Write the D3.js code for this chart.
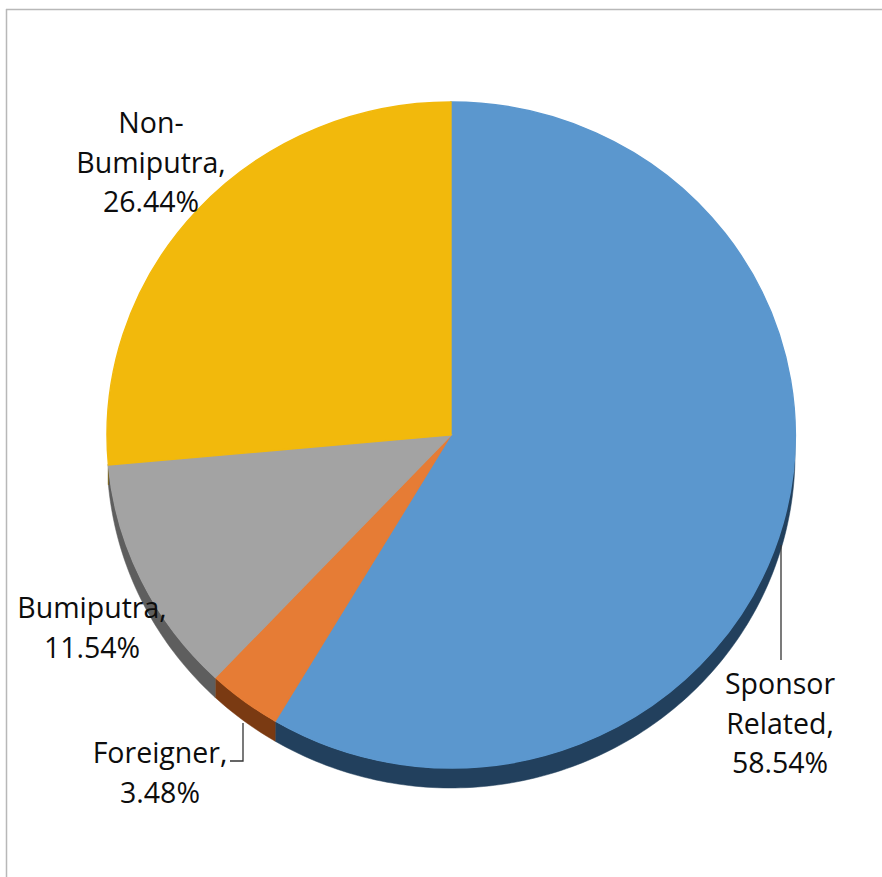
<!DOCTYPE html>
<html>
<head>
<meta charset="utf-8">
<script src="https://cdn.jsdelivr.net/npm/d3@7"></script>
<style>
  html, body { margin: 0; padding: 0; background: #fff; }
  svg { display: block; }
  .lbl { font-family: "Open Sans", sans-serif; font-size: 28.5px; fill: #0d0d0d; }
</style>
</head>
<body>
<svg id="chart" width="882" height="877"></svg>
<script>
// Shareholding breakdown
const categories = ["Sponsor Related", "Foreigner", "Bumiputra", "Non-Bumiputra"];
const shares = [58.54, 3.48, 11.54, 26.44];
const topColors = ["#5B97CE", "#E67C35", "#A3A3A3", "#F2B90C"];
const sideColors = ["#22405D", "#7A3A12", "#5E5E5E", "#7D5E05"];
// Label text lines, one array per category
const labelLines = [
  ["Sponsor", "Related,", "58.54%"],
  ["Foreigner,", "3.48%"],
  ["Bumiputra,", "11.54%"],
  ["Non-", "Bumiputra,", "26.44%"]
];

const W = 882, H = 877;
const cx = 451, cy = 435, rx = 344, ry = 333, depth = 20;

const svg = d3.select("#chart");

// Frame lines (top and left)
svg.append("line").attr("x1", 6).attr("y1", 9.5).attr("x2", W).attr("y2", 9.5)
  .attr("stroke", "#b8b8b8").attr("stroke-width", 1.5);
svg.append("line").attr("x1", 6.5).attr("y1", 9).attr("x2", 6.5).attr("y2", H)
  .attr("stroke", "#b8b8b8").attr("stroke-width", 1.5);

const pie = d3.pie().sort(null).value(d => d)(shares);

// Point on the tilted rim for a pie angle (clockwise from 12 o'clock)
const rim = (a, dy = 0) => [cx + rx * Math.sin(a), cy - ry * Math.cos(a) + dy];

// Side walls: only the front half (angles between 90° and 265°) shows
const gSide = svg.append("g");
pie.forEach((p, i) => {
  const a0 = Math.max(p.startAngle, Math.PI / 2);
  const a1 = Math.min(p.endAngle, 265 * Math.PI / 180);
  if (a1 <= a0) return;
  const n = Math.max(8, Math.ceil((a1 - a0) * 60));
  const steps = d3.range(n + 1).map(k => a0 + (a1 - a0) * k / n);
  const pts = steps.map(a => rim(a)).concat(steps.slice().reverse().map(a => rim(a, depth)));
  gSide.append("path")
    .attr("d", d3.line()(pts) + "Z")
    .attr("fill", sideColors[i])
    .attr("stroke", sideColors[i]).attr("stroke-width", 0.5);
});

// Top faces: unit-circle arcs stretched into the ellipse
const arc = d3.arc().innerRadius(0).outerRadius(1);
const gTop = svg.append("g").attr("transform", `translate(${cx},${cy}) scale(${rx},${ry})`);
gTop.selectAll("path").data(pie).join("path")
  .attr("d", arc)
  .attr("fill", (d, i) => topColors[i])
  .attr("stroke", (d, i) => topColors[i])
  .attr("stroke-width", 0.004);

// Leader lines
const leaders = [
  [[781, 545], [781, 660]],
  [[243, 723], [243, 761], [230, 761]]
];
leaders.forEach(l => svg.append("path").attr("d", d3.line()(l))
  .attr("fill", "none").attr("stroke", "#333").attr("stroke-width", 1.3));

// Labels: centre x and first baseline for each category
const labelPos = [[780, 694], [160, 763], [92, 618], [151, 133]];
const lineH = 39.5;
labelLines.forEach((lines, i) => {
  const t = svg.append("text").attr("class", "lbl").attr("text-anchor", "middle");
  lines.forEach((s, k) => {
    t.append("tspan").attr("x", labelPos[i][0]).attr("y", labelPos[i][1] + k * lineH).text(s);
  });
});
</script>
</body>
</html>
